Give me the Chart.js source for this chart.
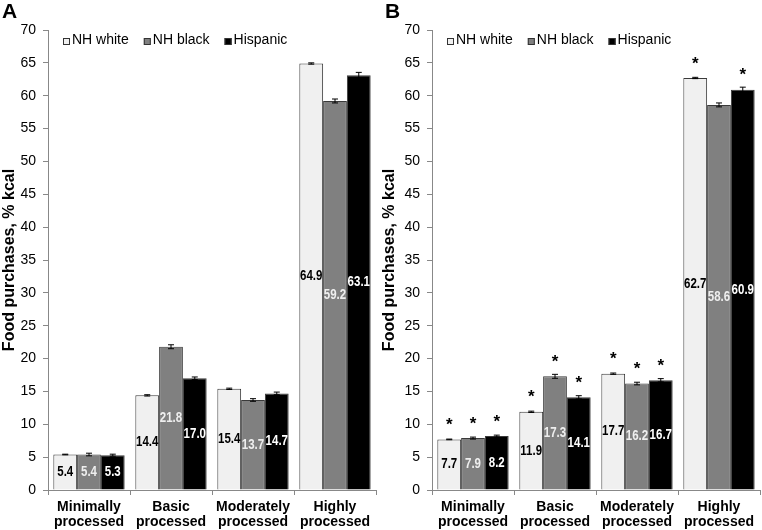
<!DOCTYPE html>
<html>
<head>
<meta charset="utf-8">
<script src="https://cdn.jsdelivr.net/npm/chart.js@4.4.1/dist/chart.umd.min.js"></script>
<style>
  html, body { margin: 0; padding: 0; background: #fff; }
  .panel { position: absolute; top: 0; height: 530px; }
  #panelA { left: 0; width: 380px; }
  #panelB { left: 380px; width: 382px; }
</style>
</head>
<body>
<div class="panel" id="panelA"><canvas id="chartA"></canvas></div>
<div class="panel" id="panelB"><canvas id="chartB"></canvas></div>
<script>
// categories and series
const categories = [['Minimally', 'processed'], ['Basic', 'processed'], ['Moderately', 'processed'], ['Highly', 'processed']];
const seriesNames = ['NH white', 'NH black', 'Hispanic'];
const yTicks = [0, 5, 10, 15, 20, 25, 30, 35, 40, 45, 50, 55, 60, 65, 70];

// panel A values
const whiteA = [5.4, 14.4, 15.4, 64.9];
const blackA = [5.4, 21.8, 13.7, 59.2];
const hispA = [5.3, 17.0, 14.7, 63.1];
const whiteErrA = [0.05, 0.1, 0.1, 0.1];
const blackErrA = [0.2, 0.3, 0.2, 0.3];
const hispErrA = [0.15, 0.2, 0.2, 0.45];

// panel B values
const whiteB = [7.7, 11.9, 17.7, 62.7];
const blackB = [7.9, 17.3, 16.2, 58.6];
const hispB = [8.2, 14.1, 16.7, 60.9];
const whiteErrB = [0.05, 0.1, 0.1, 0.1];
const blackErrB = [0.15, 0.3, 0.2, 0.3];
const hispErrB = [0.15, 0.25, 0.25, 0.4];
// significance markers (panel B)
const whiteStarB = [true, true, true, true];
const blackStarB = [true, true, true, false];
const hispStarB = [true, true, true, true];

const fillColors = ['#f0f0f0', '#808080', '#000000'];
const labelColors = ['#000000', '#eeeeee', '#ffffff'];
const FONT = "'Liberation Sans', Arial, sans-serif";

// error bars, value labels, stars, legend and panel letter
const extrasPlugin = {
    id: 'extras',
    afterDatasetsDraw(chart) {
        const opts = chart.options.plugins.extras;
        const ctx = chart.ctx;
        const y = chart.scales.y;
        ctx.save();
        chart.data.datasets.forEach((ds, di) => {
            const meta = chart.getDatasetMeta(di);
            meta.data.forEach((bar, i) => {
                const v = ds.data[i];
                const e = opts.errors[di][i];
                // error bar
                const yHi = y.getPixelForValue(v + e);
                const yLo = y.getPixelForValue(v - e);
                ctx.strokeStyle = '#000';
                ctx.lineWidth = 1;
                ctx.beginPath();
                ctx.moveTo(bar.x, yHi); ctx.lineTo(bar.x, yLo);
                ctx.moveTo(bar.x - 3, yHi); ctx.lineTo(bar.x + 3, yHi);
                ctx.moveTo(bar.x - 3, yLo); ctx.lineTo(bar.x + 3, yLo);
                ctx.stroke();
                // value label in the middle of the bar (condensed look)
                ctx.save();
                ctx.translate(bar.x, (bar.y + bar.base) / 2);
                ctx.scale(0.82, 1);
                ctx.fillStyle = labelColors[di];
                ctx.font = 'bold 14px ' + FONT;
                ctx.textAlign = 'center';
                ctx.textBaseline = 'middle';
                ctx.fillText(v.toFixed(1), 0, 0);
                ctx.restore();
                // star
                if (opts.stars && opts.stars[di][i]) {
                    ctx.fillStyle = '#000';
                    ctx.font = 'bold 17px ' + FONT;
                    ctx.textAlign = 'center';
                    ctx.textBaseline = 'middle';
                    ctx.fillText('*', bar.x, bar.y - 14);
                }
            });
        });
        ctx.restore();
    },
    afterDraw(chart) {
        const opts = chart.options.plugins.extras;
        const ctx = chart.ctx;
        const area = chart.chartArea;
        ctx.save();
        // panel letter
        ctx.fillStyle = '#000';
        ctx.font = 'bold 21px ' + FONT;
        ctx.textAlign = 'left';
        ctx.textBaseline = 'middle';
        ctx.fillText(opts.letter, opts.letterX, 12);
        // legend
        ctx.font = '14px ' + FONT;
        let x = area.left + 15;
        chart.data.datasets.forEach((ds, di) => {
            ctx.fillStyle = fillColors[di];
            ctx.fillRect(x, 38, 7, 7);
            ctx.strokeStyle = '#333';
            ctx.lineWidth = 1;
            ctx.strokeRect(x + 0.5, 38.5, 6, 6);
            ctx.fillStyle = '#000';
            ctx.fillText(ds.label, x + 9, 40);
            x += 9 + ctx.measureText(ds.label).width + 15;
        });
        ctx.restore();
    }
};

function makeChart(id, letter, letterX, values, errors, stars, yWidth, rightPad) {
    return new Chart(document.getElementById(id), {
        type: 'bar',
        data: {
            labels: categories,
            datasets: values.map((vals, di) => ({
                label: seriesNames[di],
                data: vals,
                backgroundColor: fillColors[di],
                borderColor: '#3a3a3a',
                borderWidth: 1,
                barPercentage: 1.0,
                categoryPercentage: 0.87
            }))
        },
        options: {
            responsive: true,
            maintainAspectRatio: false,
            animation: false,
            layout: { padding: { top: 30, right: rightPad, bottom: 0, left: 0 } },
            scales: {
                x: {
                    grid: { offset: true, drawOnChartArea: false, tickLength: 5, color: '#888' },
                    border: { color: '#888' },
                    ticks: {
                        color: '#000', padding: 4, maxRotation: 0, minRotation: 0, autoSkip: false,
                        font: { family: FONT, size: 14, weight: 'bold', lineHeight: 1.1 }
                    },
                    afterFit: s => { s.height = 40; }
                },
                y: {
                    min: 0,
                    max: 70,
                    afterBuildTicks: s => { s.ticks = yTicks.map(v => ({ value: v })); },
                    grid: { drawOnChartArea: false, tickLength: 5, color: '#888' },
                    border: { color: '#888' },
                    ticks: { color: '#000', padding: 7, font: { family: FONT, size: 14 } },
                    title: {
                        display: true,
                        text: 'Food purchases, % kcal',
                        color: '#000',
                        padding: 0,
                        font: { family: FONT, size: 16, weight: 'bold' }
                    },
                    afterFit: s => { s.width = yWidth; }
                }
            },
            plugins: {
                legend: { display: false },
                tooltip: { enabled: false },
                extras: { letter: letter, letterX: letterX, errors: errors, stars: stars }
            }
        },
        plugins: [extrasPlugin]
    });
}

makeChart('chartA', 'A', 2, [whiteA, blackA, hispA], [whiteErrA, blackErrA, hispErrA], null, 48, 4);
makeChart('chartB', 'B', 5, [whiteB, blackB, hispB], [whiteErrB, blackErrB, hispErrB],
    [whiteStarB, blackStarB, hispStarB], 52, 2);
</script>
</body>
</html>
